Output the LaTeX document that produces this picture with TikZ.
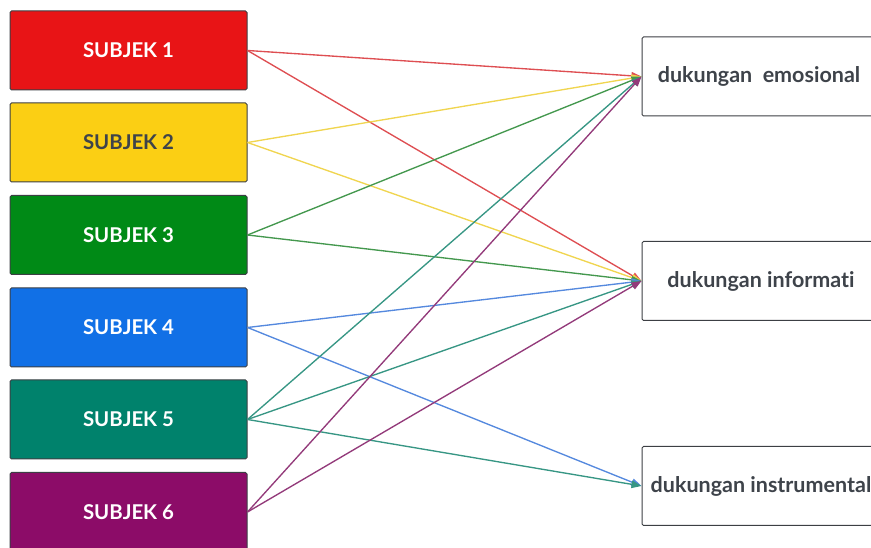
\documentclass[tikz,border=0pt]{standalone}
\usepackage{fontspec}
\setmainfont{Lato}[Ligatures=NoCommon]
\usetikzlibrary{arrows.meta}
\definecolor{cRed}{HTML}{E81416}
\definecolor{cYellow}{HTML}{FBCF14}
\definecolor{cGreen}{HTML}{008A16}
\definecolor{cBlue}{HTML}{1170E6}
\definecolor{cTeal}{HTML}{00826C}
\definecolor{cPurple}{HTML}{8C0C68}
\definecolor{lRed}{HTML}{DE4E52}
\definecolor{lYellow}{HTML}{F0D550}
\definecolor{lGreen}{HTML}{44984E}
\definecolor{lBlue}{HTML}{5589DE}
\definecolor{lTeal}{HTML}{379684}
\definecolor{lPurple}{HTML}{933A7A}
\definecolor{edge}{HTML}{3C3F44}
\definecolor{ink}{HTML}{3E434A}
\tikzset{
  subj/.style={draw=edge, line width=1pt, rounded corners=1.5pt,
    minimum width=237pt, minimum height=79pt, inner sep=0pt,
    font=\fontsize{20.4}{24}\selectfont\bfseries, text=white},
  target/.style={draw=edge, line width=1pt, rounded corners=1.5pt, fill=white,
    minimum width=238pt, minimum height=79pt, inner sep=0pt},
  tlabel/.style={font=\fontsize{21.5}{25}\selectfont\bfseries, text=ink, inner sep=0pt},
  link/.style={line width=1.35pt, -{Triangle[length=10pt,width=7.5pt]}}
}
\begin{document}
\begin{tikzpicture}[x=1pt,y=1pt]
\useasboundingbox (0,0) rectangle (871,548);
\clip (0,0) rectangle (871,548);
% subject column
\node[subj, fill=cRed]    (s1) at (128.5,497.5) {SUBJEK 1};
\node[subj, fill=cYellow, text=ink] (s2) at (128.5,405.5) {SUBJEK 2};
\node[subj, fill=cGreen]  (s3) at (128.5,313) {SUBJEK 3};
\node[subj, fill=cBlue]   (s4) at (128.5,220.5) {SUBJEK 4};
\node[subj, fill=cTeal]   (s5) at (128.5,128.5) {SUBJEK 5};
\node[subj, fill=cPurple] (s6) at (128.5,36) {SUBJEK 6};
% support categories
\node[target] (t1) at (761,471.5) {};
\node[target] (t2) at (761,267) {};
\node[target] (t3) at (761,62) {};
\node[tlabel] at (759,471.5) {dukungan\ \ emosional};
\node[tlabel] at (761,267) {dukungan informati};
\node[tlabel] at (761,62) {dukungan instrumental};
% links
\draw[link, lRed]    (s1.east) -- (t1.west);
\draw[link, lRed]    (s1.east) -- (t2.west);
\draw[link, lYellow] (s2.east) -- (t1.west);
\draw[link, lYellow] (s2.east) -- (t2.west);
\draw[link, lGreen]  (s3.east) -- (t1.west);
\draw[link, lGreen]  (s3.east) -- (t2.west);
\draw[link, lBlue]   (s4.east) -- (t2.west);
\draw[link, lBlue]   (s4.east) -- (t3.west);
\draw[link, lTeal]   (s5.east) -- (t1.west);
\draw[link, lTeal]   (s5.east) -- (t2.west);
\draw[link, lTeal]   (s5.east) -- (t3.west);
\draw[link, lPurple] (s6.east) -- (t1.west);
\draw[link, lPurple] (s6.east) -- (t2.west);
\end{tikzpicture}
\end{document}
